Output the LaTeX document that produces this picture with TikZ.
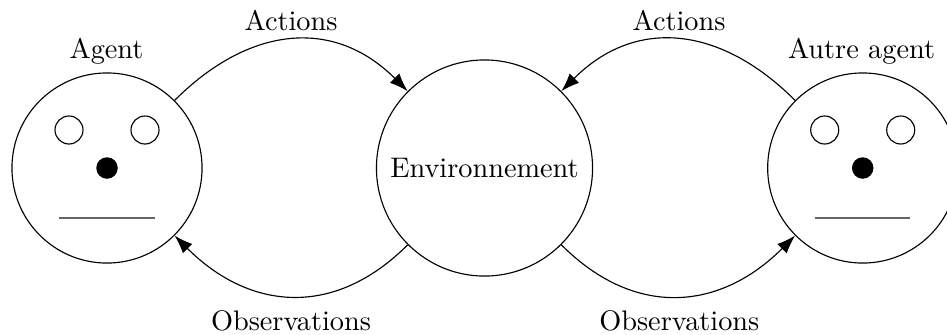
\documentclass[tikz,border=0pt]{standalone}
\usetikzlibrary{arrows.meta}
\begin{document}
\begin{tikzpicture}[x=0.3535pt,y=0.3535pt,
  face/.style={circle,draw,minimum size=67.2pt,inner sep=0pt},
  envbox/.style={circle,draw,minimum size=76.4pt,inner sep=0pt},
  eyebox/.style={circle,draw,minimum size=9.9pt,inner sep=0pt},
  nosebox/.style={circle,fill=black,minimum size=7.6pt,inner sep=0pt},
  mouthline/.style={draw=black!60,line width=0.45pt},
  lbl/.style={anchor=base,inner sep=0pt},
  flow/.style={-{Latex[length=6.5pt,width=4.7pt]},line width=0.4pt,looseness=1.15}]
\useasboundingbox (0,0) rectangle (947,334);
% main nodes
\node[face] (agent) at (107,166) {};
\node[envbox] (env) at (484.5,166) {Environnement};
\node[face] (autre) at (862.7,166) {};
% faces
\foreach \f in {agent,autre}{
  \node[eyebox] (\f-eyeL) at ([shift={(-38,38)}]\f.center) {};
  \node[eyebox] (\f-eyeR) at ([shift={(38,38)}]\f.center) {};
  \node[nosebox] (\f-nose) at (\f.center) {};
  \coordinate (\f-mouthL) at ([shift={(-48,-50)}]\f.center);
  \coordinate (\f-mouthR) at ([shift={(47.5,-50)}]\f.center);
  \draw[mouthline] (\f-mouthL) -- (\f-mouthR);
}
% labels
\node[lbl] (agentlbl) at (106.5,276) {Agent};
\node[lbl] (autrelbl) at (861.5,276) {Autre agent};
\node[lbl] (act1) at (291,304) {Actions};
\node[lbl] (act2) at (679,304) {Actions};
\node[lbl] (obs1) at (291,4) {Observations};
\node[lbl] (obs2) at (679.3,4) {Observations};
% connectors
\draw[flow] (agent.45) to[out=45,in=135] (env.135);
\draw[flow] (env.-135) to[out=-135,in=-45] (agent.-45);
\draw[flow] (autre.135) to[out=135,in=45] (env.45);
\draw[flow] (env.-45) to[out=-45,in=-135] (autre.-135);
\end{tikzpicture}
\end{document}
